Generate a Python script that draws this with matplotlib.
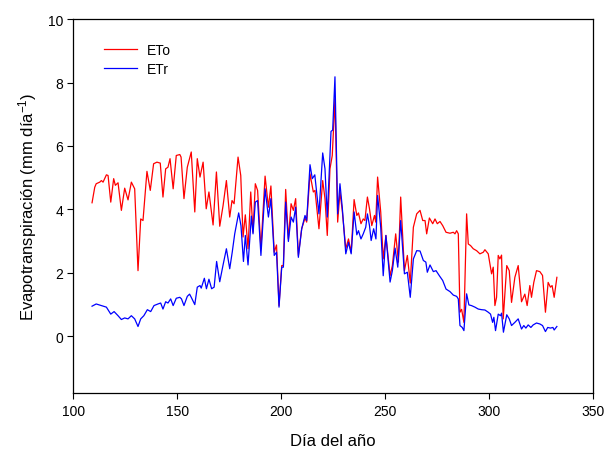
import numpy as np
from matplotlib import pyplot as plt

plt.rcParams['font.family'] = ['Liberation Sans', 'DejaVu Sans']
plt.rcParams['mathtext.default'] = 'regular'

# ETo: day of year, mm/day
eto_day = [109, 110.3, 111, 112.7, 113.5, 114.3, 115.9, 116.7, 118, 119.4, 120.2, 121.5, 123.1, 124.7,
           126.3, 127.9, 129.5, 131.1, 132.4, 133.5, 135.4, 137, 138.6, 140.2, 141.8, 143.1, 144.4, 145.5,
           146.5, 148, 149.5, 151.2, 151.8, 153.2, 154.8, 156.7, 158.4, 159.6, 160.9, 162.4, 163.9, 165.2,
           167.2, 168.8, 170.4, 172, 173.6, 175.2, 176.3, 177.3, 179.2, 180.5, 181.6, 182.7, 184, 185.3,
           186.4, 187.5, 188.6, 190.2, 192.2, 193.8, 195, 196.6, 197.7, 198.9, 200.2, 201, 202.1, 203.4,
           204.7, 205.8, 206.9, 208.2, 209.8, 211.4, 212.2, 213.8, 215.4, 216.2, 218.1, 219.9, 221, 222.1,
           223.4, 224.5, 225.8, 227.1, 228.2, 229.3, 231, 232.3, 233.6, 235, 236.3, 237.1, 238.3, 239.4,
           240.2, 241.4, 242.4, 243.5, 244.8, 245.4, 246.3, 247.8, 249, 250.3, 252.3, 253.4, 255, 256.3,
           257.4, 259.2, 260.6, 262, 263.5, 265.1, 266.7, 268, 269.1, 269.9, 271.2, 272.8, 273.9, 275,
           276.3, 277.6, 279.2, 281.1, 282.7, 283.5, 284.3, 285.1, 285.9, 286.7, 287.8, 289.1, 289.9, 291,
           292.3, 293.9, 295.5, 297.1, 297.9, 299.5, 301.1, 301.9, 302.7, 303.5, 304.3, 305.1, 305.9, 306.7,
           308.4, 309.6, 310.7, 312.3, 313.9, 315.5, 317.1, 318.2, 319.5, 320.3, 321.4, 322.7, 324.3, 325.6,
           327, 328.3, 329.4, 330.2, 331.2, 332.5]
eto_val = [4.21, 4.70, 4.81, 4.86, 4.91, 4.86, 5.09, 5.07, 4.23, 4.97, 4.76, 4.84, 3.97, 4.67,
           4.30, 4.86, 4.65, 2.07, 3.70, 3.65, 5.20, 4.60, 5.44, 5.49, 5.46, 4.39, 5.28, 5.33,
           5.60, 4.65, 5.70, 5.73, 5.65, 4.34, 5.33, 5.81, 3.92, 5.60, 5.02, 5.49, 4.02, 4.55,
           3.51, 5.18, 3.47, 4.12, 4.91, 3.76, 4.28, 4.18, 5.65, 5.07, 3.13, 3.83, 2.76, 4.55,
           3.28, 4.81, 4.60, 2.76, 5.05, 4.07, 4.74, 2.65, 2.88, 0.97, 2.23, 2.23, 4.63, 3.07,
           4.18, 3.97, 4.34, 2.55, 3.39, 3.73, 3.60, 5.12, 4.55, 4.60, 3.39, 4.91, 4.34, 3.18,
           5.28, 5.70, 7.49, 3.60, 4.55, 3.97, 2.76, 3.07, 2.65, 4.31, 3.81, 3.89, 3.55, 3.70,
           3.65, 4.39, 4.02, 3.49, 3.81, 3.60, 5.02, 3.92, 2.44, 3.18, 1.91, 2.23, 3.23, 2.34,
           4.39, 2.07, 2.55, 1.68, 3.44, 3.86, 3.97, 3.65, 3.65, 3.23, 3.73, 3.55, 3.70, 3.55,
           3.62, 3.49, 3.28, 3.25, 3.28, 3.23, 3.33, 3.23, 0.76, 0.85, 0.44, 3.86, 2.91, 2.86,
           2.76, 2.70, 2.60, 2.65, 2.73, 2.60, 1.97, 2.18, 0.97, 1.23, 2.55, 2.44, 2.56, 0.55,
           2.23, 2.07, 1.07, 1.86, 2.23, 1.09, 1.33, 0.97, 1.60, 1.23, 1.70, 2.07, 2.04, 1.92,
           0.76, 1.70, 1.55, 1.60, 1.23, 1.86]

# ETr: day of year, mm/day
etr_day = [109, 111, 113.5, 115.9, 118, 119.6, 121.5, 123.1, 124.7, 126.3, 127.9, 129.5, 131.1, 132.4,
           133.9, 135.6, 137.2, 138.8, 140.7, 142, 143.1, 144.4, 145.5, 146.8, 148, 149.5, 151.2, 152,
           153.2, 154.8, 155.9, 156.7, 158.4, 159.6, 160.9, 161.5, 163, 164, 165.2, 166.5, 167.7, 168.9,
           170.4, 172, 173.6, 175.2, 176.4, 177.6, 179.5, 180.6, 181.8, 182.7, 184, 185.6, 186.4, 187.5,
           188.6, 190.2, 192.2, 193.8, 195, 196.6, 197.7, 198.9, 200.2, 201, 202.1, 203.4, 204.7, 205.8,
           206.9, 208.2, 209.8, 211.4, 212.2, 213.8, 214.9, 216.1, 218.1, 219.9, 221, 222.1, 223.9, 224.7,
           225.8, 227.1, 228.2, 229.3, 231, 232.3, 233.6, 235, 236.3, 237.1, 238.3, 239.4, 240.6, 241.4,
           242.4, 243.2, 244.4, 245.5, 246.3, 247.8, 249, 250.3, 252.3, 253.4, 254.7, 256, 257.4, 259.2,
           260.6, 262, 263.5, 265.1, 266.7, 268.3, 269.5, 270.2, 271.5, 273.1, 274.4, 276, 277.6, 279.2,
           281.1, 282.7, 284.3, 285.1, 285.9, 287, 287.8, 289.1, 290.2, 291.4, 293.1, 294.7, 296.3, 297.9,
           299.5, 300.6, 301.6, 302.2, 303, 304.3, 305.4, 305.9, 306.8, 308.4, 309.6, 310.7, 312.3, 313.9,
           315.5, 316.6, 317.6, 318.7, 320, 321.1, 322.7, 324.3, 325.6, 327, 328.1, 329.4, 330.6, 331.2,
           332.5]
etr_val = [0.95, 1.02, 0.97, 0.92, 0.70, 0.78, 0.65, 0.53, 0.58, 0.55, 0.65, 0.55, 0.31, 0.55,
           0.65, 0.84, 0.78, 0.97, 1.02, 1.05, 0.86, 1.09, 1.05, 1.18, 0.97, 1.20, 1.23, 1.18,
           0.97, 1.26, 1.33, 1.23, 1.00, 1.55, 1.60, 1.52, 1.83, 1.50, 1.80, 1.50, 1.55, 2.36,
           1.72, 2.25, 2.76, 2.13, 2.65, 3.23, 3.89, 3.49, 2.36, 3.18, 2.25, 3.79, 3.23, 4.23,
           4.28, 2.55, 4.65, 3.76, 4.34, 2.55, 2.65, 0.92, 2.18, 2.18, 4.23, 2.99, 3.76, 3.60,
           4.07, 2.49, 3.39, 3.81, 3.65, 5.41, 4.97, 5.09, 3.86, 5.78, 5.28, 3.76, 6.46, 6.50,
           8.18, 3.86, 4.81, 4.07, 2.60, 2.96, 2.60, 3.92, 3.20, 3.33, 3.07, 3.23, 3.44, 3.86,
           3.49, 3.02, 3.39, 3.07, 4.44, 3.44, 1.91, 3.18, 1.71, 2.07, 2.78, 2.18, 3.65, 1.97,
           2.02, 1.23, 2.44, 2.70, 2.69, 2.39, 2.34, 2.02, 2.25, 2.04, 2.07, 1.91, 1.76, 1.49,
           1.41, 1.30, 1.26, 1.18, 0.34, 0.28, 0.18, 1.34, 0.99, 0.97, 0.92, 0.86, 0.84, 0.83,
           0.76, 0.70, 0.44, 0.60, 0.18, 0.70, 0.65, 0.73, 0.13, 0.68, 0.55, 0.34, 0.44, 0.55,
           0.23, 0.34, 0.26, 0.36, 0.28, 0.36, 0.42, 0.39, 0.34, 0.15, 0.28, 0.26, 0.28, 0.20,
           0.31]

fig = plt.figure(figsize=(6.06, 4.56), dpi=100)
ax = fig.add_axes([0.121, 0.135, 0.858, 0.821])

ax.plot(eto_day, eto_val, color='red', lw=0.9, label='ETo')
ax.plot(etr_day, etr_val, color='blue', lw=0.9, label='ETr')

ax.set_xlim(100, 350)
ax.set_ylim(-1.8, 10)
ax.set_xticks(np.arange(100, 351, 50))
ax.set_yticks(np.arange(0, 11, 2))
ax.tick_params(direction='out', length=4, labelsize=10, top=False, right=False)
for s in ax.spines.values():
    s.set_linewidth(0.9)

ax.set_xlabel('Día del año', fontsize=12, labelpad=11)
ax.set_ylabel('Evapotranspiración (mm día$^{-1}$)', fontsize=12, labelpad=6)

ax.legend(loc='upper left', bbox_to_anchor=(0.035, 0.97), frameon=False, fontsize=10,
          handlelength=2.4, handletextpad=0.65, labelspacing=0.35)

plt.savefig('out.png', dpi=100)
